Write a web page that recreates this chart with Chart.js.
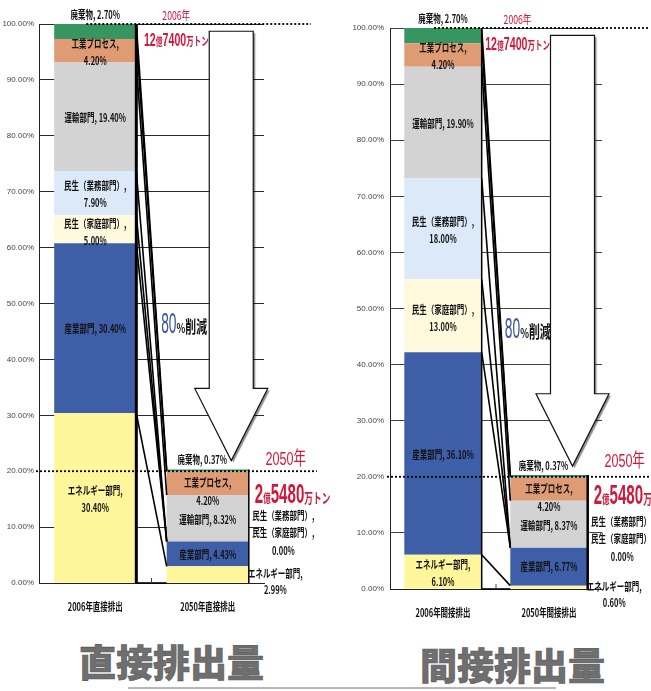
<!DOCTYPE html>
<html lang="ja">
<head>
<meta charset="utf-8">
<title>直接排出量・間接排出量</title>
<script src="https://cdn.jsdelivr.net/npm/chart.js@4.4.1/dist/chart.umd.min.js"></script>
<style>
html,body{margin:0;padding:0;background:#fff;}
body{width:651px;height:691px;position:relative;overflow:hidden;}
.wrap{position:absolute;top:0;}
#wrapL{left:0;width:330px;height:630px;}
#wrapR{left:330px;width:321px;height:630px;}
.title{position:absolute;font-family:"Noto Sans CJK JP",sans-serif;font-weight:900;font-size:37px;line-height:1;color:#6f6f6f;-webkit-text-stroke:0.6px #555;white-space:nowrap;}
#titleL{left:79px;top:643px;}
#titleR{left:420px;top:646px;}
#rule{position:absolute;left:128px;top:687px;width:428px;height:2px;background:#b8b8b8;}
</style>
</head>
<body>
<div class="wrap" id="wrapL"><canvas id="chartL" width="330" height="630"></canvas></div>
<div class="wrap" id="wrapR"><canvas id="chartR" width="321" height="630"></canvas></div>
<div class="title" id="titleL">直接排出量</div>
<div class="title" id="titleR">間接排出量</div>
<div id="rule"></div>
<script>
// ---- data: share of 2006 total emissions (%) per sector, [2006, 2050] ----
const sectors = ['エネルギー部門', '産業部門', '民生（家庭部門）', '民生（業務部門）', '運輸部門', '工業プロセス', '廃棄物'];

const directCategories = ['2006年直接排出', '2050年直接排出'];
const directEnergy     = [30.40, 2.99];
const directIndustry   = [30.40, 4.43];
const directHousehold  = [5.00, 0.00];
const directCommercial = [7.90, 0.00];
const directTransport  = [19.40, 8.32];
const directProcess    = [4.20, 4.20];
const directWaste      = [2.70, 0.37];

const indirectCategories = ['2006年間接排出', '2050年間接排出'];
const indirectEnergy     = [6.10, 0.60];
const indirectIndustry   = [36.10, 6.77];
const indirectHousehold  = [13.00, 0.00];
const indirectCommercial = [18.00, 0.00];
const indirectTransport  = [19.90, 8.37];
const indirectProcess    = [4.20, 4.20];
const indirectWaste      = [2.70, 0.37];

const yTicks = [0, 10, 20, 30, 40, 50, 60, 70, 80, 90, 100];
const years = ['2006年', '2050年'];
const total2006 = ['12', '億', '7400', '万トン'];
const total2050 = ['2', '億', '5480', '万トン'];
const reductionPct = '80';
const reductionText = '削減';

// ---- styling ----
const sectorColors = ['#fff69c', '#3e5fa8', '#fffadd', '#dbe9f8', '#d3d3d3', '#df9b74', '#37955f'];
const RED = '#d0183a';
const BLUE = '#3a56a4';
const JP = '"Noto Sans CJK JP", sans-serif';
const LABEL_FONT = 'bold 11px ' + JP;
const LABEL_SX = 0.68;

function drawText(ctx, s, x, y, font, color, align, sx) {
  ctx.save();
  ctx.font = font;
  ctx.fillStyle = color;
  ctx.textBaseline = 'middle';
  ctx.textAlign = 'left';
  const w = ctx.measureText(s).width * sx;
  const x0 = align === 'center' ? x - w / 2 : align === 'right' ? x - w : x;
  ctx.translate(x0, y);
  ctx.scale(sx, 1);
  ctx.fillText(s, 0, 0);
  ctx.restore();
}

// text runs of mixed size sharing one baseline
function drawRuns(ctx, parts, x, y, align, color) {
  ctx.save();
  ctx.fillStyle = color;
  ctx.textBaseline = 'alphabetic';
  ctx.textAlign = 'left';
  let total = 0;
  const widths = parts.map(p => { ctx.font = p.font; const w = ctx.measureText(p.t).width * p.sx; total += w; return w; });
  let cx = align === 'center' ? x - total / 2 : x;
  parts.forEach((p, i) => {
    ctx.save();
    ctx.font = p.font;
    if (p.color) ctx.fillStyle = p.color;
    ctx.translate(cx, y);
    ctx.scale(p.sx, 1);
    ctx.fillText(p.t, 0, 0);
    ctx.restore();
    cx += widths[i];
  });
  ctx.restore();
}

function pct(v) { return v.toFixed(2) + '%'; }

function overlayPlugin(cfg) {
  return {
    id: 'overlay',
    afterDatasetsDraw(chart) {
      const ctx = chart.ctx;
      const ys = chart.scales.y;
      const area = chart.chartArea;
      const ds = chart.data.datasets;
      const bars = chart.getDatasetMeta(0).data;
      const b0 = bars[0], b1 = bars[1];
      const b0R = b0.x + b0.width / 2;
      const b1L = b1.x - b1.width / 2, b1R = b1.x + b1.width / 2;
      const cum = (cat, k) => { let s = 0; for (let i = 0; i < k; i++) s += ds[i].data[cat]; return s; };
      const py = v => ys.getPixelForValue(v);
      const val = (k, cat) => ds[k].data[cat];
      const mid = (k, cat) => py(cum(cat, k) + val(k, cat) / 2);
      const topAll = cat => py(cum(cat, ds.length));

      ctx.save();
      // connector lines between the two stacks
      ctx.strokeStyle = '#000';
      ctx.lineWidth = 1.6;
      for (let k = 0; k <= ds.length; k++) {
        ctx.beginPath();
        ctx.moveTo(b0R, py(cum(0, k)));
        ctx.lineTo(b1L, py(cum(1, k)));
        ctx.stroke();
      }
      // stack edges
      ctx.lineWidth = cfg.edge0;
      ctx.beginPath(); ctx.moveTo(b0R, topAll(0)); ctx.lineTo(b0R, area.bottom); ctx.stroke();
      ctx.lineWidth = cfg.edge1;
      ctx.beginPath(); ctx.moveTo(b1R, topAll(1)); ctx.lineTo(b1R, area.bottom); ctx.stroke();

      // small tick between categories
      ctx.lineWidth = 1;
      ctx.strokeStyle = '#444';
      const xm = (b0.x + b1.x) / 2;
      ctx.beginPath(); ctx.moveTo(xm, area.bottom - 5); ctx.lineTo(xm, area.bottom); ctx.stroke();

      // dotted reference lines at 100% and 20%
      ctx.strokeStyle = '#000';
      ctx.lineWidth = 1.8;
      ctx.setLineDash([2, 2]);
      ctx.beginPath(); ctx.moveTo(b0.x - 9, py(100)); ctx.lineTo(b1R + 62, py(100)); ctx.stroke();
      ctx.beginPath(); ctx.moveTo(area.left - 3, py(20)); ctx.lineTo(b1R + 68, py(20)); ctx.stroke();
      ctx.setLineDash([]);

      // big downward arrow
      const ax = b1.x + 23.5, sh = 22, hh = 36.5;
      const yT = py(98.7), yN = py(34.8), yTip = py(21.9);
      ctx.beginPath();
      ctx.moveTo(ax - sh, yT);
      ctx.lineTo(ax + sh, yT);
      ctx.lineTo(ax + sh, yN);
      ctx.lineTo(ax + hh, yN);
      ctx.lineTo(ax, yTip);
      ctx.lineTo(ax - hh, yN);
      ctx.lineTo(ax - sh, yN);
      ctx.closePath();
      ctx.save();
      ctx.shadowColor = 'rgba(0,0,0,0.45)';
      ctx.shadowOffsetX = 2;
      ctx.shadowOffsetY = 2;
      ctx.shadowBlur = 1;
      ctx.fillStyle = '#fff';
      ctx.fill();
      ctx.restore();
      ctx.lineWidth = 1.2;
      ctx.strokeStyle = '#111';
      ctx.stroke();
      ctx.restore();

      // segment labels, 2006 stack
      const T = (s, x, y, align) => drawText(ctx, s, x, y, LABEL_FONT, '#111', align || 'center', LABEL_SX);
      const one = (k, cat, x, y) => T(sectors[k] + ', ' + pct(val(k, cat)), x, y);
      const two = (k, cat, x, y1, y2) => { T(sectors[k] + ',', x, y1); T(pct(val(k, cat)), x, y2); };

      one(6, 0, b0.x, topAll(0) - 9.5);
      two(5, 0, b0.x, mid(5, 0) - 7.5, mid(5, 0) + 10);
      one(4, 0, b0.x, mid(4, 0) + 1);
      two(3, 0, b0.x, mid(3, 0) - 7, mid(3, 0) + 10);
      two(2, 0, b0.x, mid(2, 0) - cfg.houseUp, mid(2, 0) + 17 - cfg.houseUp);
      one(1, 0, b0.x, mid(1, 0) + 1);
      two(0, 0, b0.x, mid(0, 0) - 7.5, mid(0, 0) + 10);

      // segment labels, 2050 stack
      one(6, 1, b1.x - 5.5, topAll(1) - 9.5);
      two(5, 1, b1.x, mid(5, 1), mid(5, 1) + 18);
      one(4, 1, b1.x, mid(4, 1) + 1.5);
      one(1, 1, b1.x, mid(1, 1) + 0.5);
      const lvl = py(cum(1, 2));
      T(sectors[3] + ',', b1R + 34.5, lvl - 25.5);
      T(sectors[2] + ',', b1R + 34.5, lvl - 8.5);
      T(pct(val(2, 1)), b1R + 34.5, lvl + 9);
      two(0, 1, b1R + 26.5, mid(0, 1) - 1, mid(0, 1) + 15.5);

      // category labels
      chart.data.labels.forEach((lab, i) => {
        drawText(ctx, lab, bars[i].x, area.bottom + 24, 'bold 11px ' + JP, '#111', 'center', 0.68);
      });

      // year / total annotations
      const cx06 = b1.x - 31.5;
      drawText(ctx, years[0], cx06, py(100) - 8.5, '12px ' + JP, RED, 'center', 0.72);
      const small = (t, size) => ({ t, font: 'bold ' + size + 'px ' + JP, sx: 0.62 });
      const bigN = (t, size) => ({ t, font: 'bold ' + size + 'px "Liberation Sans", Arial, sans-serif', sx: 0.56 });
      drawRuns(ctx, [bigN(total2006[0], 19), small(total2006[1], 11), bigN(total2006[2], 19), small(total2006[3], 12)],
        cx06, py(100) + 22, 'center', RED);

      drawText(ctx, years[1], b1R + 37, py(20) + cfg.yearDy, '19px "Liberation Sans", Arial, ' + JP, RED, 'center', 0.66);
      drawRuns(ctx, [bigN(total2050[0], 27), small(total2050[1], 12), bigN(total2050[2], 27), small(total2050[3], 14)],
        b1R + 6, py(20) + cfg.totalDy, 'left', RED);

      // reduction callout
      drawRuns(ctx, [
        { t: reductionPct, font: '30px "Liberation Sans", Arial, sans-serif', sx: 0.46, color: BLUE },
        { t: '%', font: 'bold 13px ' + JP, sx: 0.7, color: '#111' },
        { t: reductionText, font: 'bold 17px ' + JP, sx: 0.64, color: '#111' }
      ], b1L - 5.5, py(44.8), 'left', '#111');
    }
  };
}

function buildChart(canvasId, categories, series, cfg) {
  return new Chart(document.getElementById(canvasId), {
    type: 'bar',
    data: {
      labels: categories,
      datasets: series.map((data, i) => ({
        label: sectors[i],
        data: data,
        backgroundColor: sectorColors[i],
        borderWidth: 0,
        barPercentage: 0.73,
        categoryPercentage: 1
      }))
    },
    options: {
      responsive: false,
      animation: false,
      layout: { padding: { left: 0, right: cfg.padRight, top: cfg.padTop, bottom: cfg.padBottom } },
      plugins: { legend: { display: false }, tooltip: { enabled: false } },
      scales: {
        x: {
          stacked: true,
          grid: { display: false, drawTicks: false },
          border: { display: true, color: '#222', width: 1 },
          ticks: { display: false },
          afterFit(s) { s.height = 0; }
        },
        y: {
          stacked: true,
          min: 0,
          max: 100,
          afterBuildTicks(s) { s.ticks = yTicks.map(v => ({ value: v })); },
          ticks: {
            callback: v => v.toFixed(2) + '%',
            font: { family: '"Liberation Sans Narrow", "Liberation Sans", Arial, sans-serif', size: 8 },
            color: '#444',
            padding: cfg.tickPad
          },
          grid: {
            drawTicks: false,
            color: c => (c.tick && c.tick.value === 20) ? 'rgba(0,0,0,0)' : cfg.gridColor,
            lineWidth: 1
          },
          border: { display: true, color: '#222', width: 1 },
          afterFit(s) { s.width = cfg.axisWidth; }
        }
      }
    },
    plugins: [overlayPlugin(cfg)]
  });
}

buildChart('chartL', directCategories,
  [directEnergy, directIndustry, directHousehold, directCommercial, directTransport, directProcess, directWaste],
  { axisWidth: 39, padRight: 66, padTop: 24, padBottom: 47, tickPad: 5, gridColor: '#2a2a2a',
    edge0: 3, edge1: 1.5, houseUp: 5, yearDy: -11, totalDy: 32 });

buildChart('chartR', indirectCategories,
  [indirectEnergy, indirectIndustry, indirectHousehold, indirectCommercial, indirectTransport, indirectProcess, indirectWaste],
  { axisWidth: 60, padRight: 49, padTop: 28, padBottom: 41, tickPad: 6, gridColor: '#444',
    edge0: 1.5, edge1: 2.5, houseUp: 6, yearDy: -15, totalDy: 27 });
</script>
</body>
</html>
